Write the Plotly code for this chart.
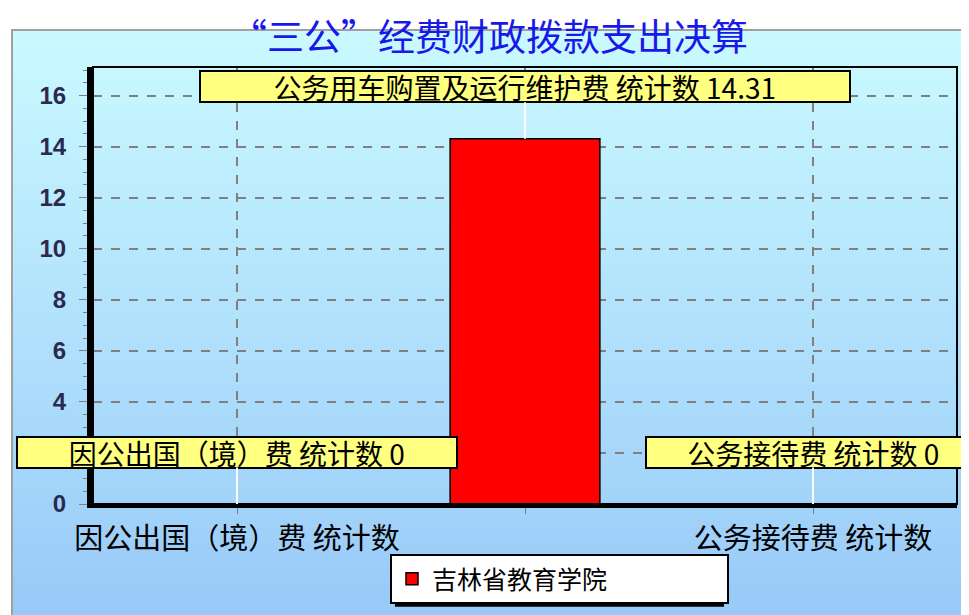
import plotly.graph_objects as go

# chart data
categories = ["因公出国（境）费 统计数", "公务用车购置及运行维护费 统计数", "公务接待费 统计数"]
tick_labels = ["因公出国（境）费 统计数", "", "公务接待费 统计数"]
values = [0, 14.31, 0]
series_name = "吉林省教育学院"
title_text = "“三公”经费财政拨款支出决算"
y_ticks = [0, 2, 4, 6, 8, 10, 12, 14, 16]

# the page body adds an 8px margin, so the figure is laid out 8px smaller
OFF = 8
W, H = 969 - OFF, 615 - OFF
L, R, T, B = 93 - OFF, 12, 67 - OFF, 110
PW, PH = W - L - R, H - T - B

CJK = "Noto Sans CJK SC"


def px_x(p):
    # window pixel -> paper fraction
    return (p - OFF - L) / PW


def px_y(p):
    return (H - B - (p - OFF)) / PH


def text_units(s):
    return sum(0.5 if ord(c) < 128 else 1.0 for c in s)


fig = go.Figure()

fig.add_trace(go.Bar(
    x=categories,
    y=values,
    name=series_name,
    width=0.52,
    marker=dict(color="#FF0000", line=dict(color="#000000", width=1.5)),
    showlegend=True,
))

# gradient background built from thin strips
shapes = []
top_rgb = (202, 250, 255)
bot_rgb = (152, 201, 248)
n = 70
y0p, y1p = 30, 620
for i in range(n):
    a = y0p + (y1p - y0p) * i / n
    b = y0p + (y1p - y0p) * (i + 1) / n
    t = (i + 0.5) / n
    col = tuple(round(top_rgb[k] + (bot_rgb[k] - top_rgb[k]) * t) for k in range(3))
    shapes.append(dict(
        type="rect", xref="paper", yref="paper", layer="below",
        x0=px_x(12), x1=px_x(975), y0=px_y(a), y1=px_y(b + 0.6),
        fillcolor="rgb(%d,%d,%d)" % col, line=dict(width=0),
    ))
# outer frame
shapes.append(dict(
    type="rect", xref="paper", yref="paper", layer="below",
    x0=px_x(12), x1=px_x(980), y0=px_y(30), y1=px_y(625),
    line=dict(color="#A0A0A0", width=2), fillcolor="rgba(0,0,0,0)",
))
# plot border
shapes.append(dict(
    type="rect", xref="paper", yref="paper", layer="above",
    x0=0, x1=1, y0=0, y1=1, line=dict(color="#000000", width=2),
))
# legend shadow
shapes.append(dict(
    type="rect", xref="paper", yref="paper", layer="above",
    x0=px_x(395), x1=px_x(724), y0=px_y(566), y1=px_y(608),
    fillcolor="#000000", line=dict(width=0),
))

annotations = []
for cat, v in zip(categories, values):
    txt = "%s %g" % (cat, v)
    annotations.append(dict(
        x=cat, y=v, xref="x", yref="y",
        text=txt,
        showarrow=True, arrowhead=0, arrowwidth=2, arrowcolor="#FFFFFF",
        ax=0, ay=-52,
        width=35 * text_units(txt), height=29,
        bgcolor="#FFFF80", bordercolor="#000000", borderwidth=2, borderpad=0,
        font=dict(family=CJK, size=28, color="#000000"),
    ))

fig.update_layout(
    width=W, height=H,
    margin=dict(l=L, r=R, t=T, b=B, pad=0),
    paper_bgcolor="#FFFFFF",
    plot_bgcolor="rgba(0,0,0,0)",
    title=dict(
        text=title_text, x=(489 - OFF) / W, xref="container", xanchor="center",
        y=1 - (38 - OFF) / H, yref="container", yanchor="middle",
        font=dict(family=CJK, size=37, color="#1818E8"),
    ),
    shapes=shapes,
    annotations=annotations,
    showlegend=True,
    legend=dict(
        orientation="h", x=px_x(390), xanchor="left", y=px_y(604), yanchor="bottom",
        bgcolor="#FFFFFF", bordercolor="#000000", borderwidth=2,
        font=dict(family=CJK, size=25, color="#000000"),
        entrywidth=290, entrywidthmode="pixels",
        tracegroupgap=0, itemwidth=30,
    ),
    xaxis=dict(
        type="category",
        tickmode="array", tickvals=categories, ticktext=tick_labels,
        showgrid=True, gridcolor="#808080", griddash="dash", gridwidth=1.5,
        showline=True, linecolor="#000000", linewidth=4,
        ticks="outside", ticklen=6, tickcolor="#808080",
        ticklabelstandoff=0,
        tickfont=dict(family=CJK, size=29, color="#000000"),
        range=[-0.5, 2.5], fixedrange=True, automargin=False,
    ),
    yaxis=dict(
        range=[0, 17.12],
        tickmode="array", tickvals=y_ticks,
        showgrid=True, gridcolor="#808080", griddash="dash", gridwidth=1.5,
        zeroline=False,
        showline=True, linecolor="#000000", linewidth=6,
        ticks="outside", ticklen=8, tickcolor="#808080",
        ticklabelstandoff=8,
        minor=dict(dtick=0.5, ticks="outside", ticklen=4, tickcolor="#808080", showgrid=False),
        tickfont=dict(family="Liberation Sans", size=24, color="#2A2A50", weight="bold"),
        fixedrange=True, automargin=False,
    ),
)

fig.write_html("out.html")
